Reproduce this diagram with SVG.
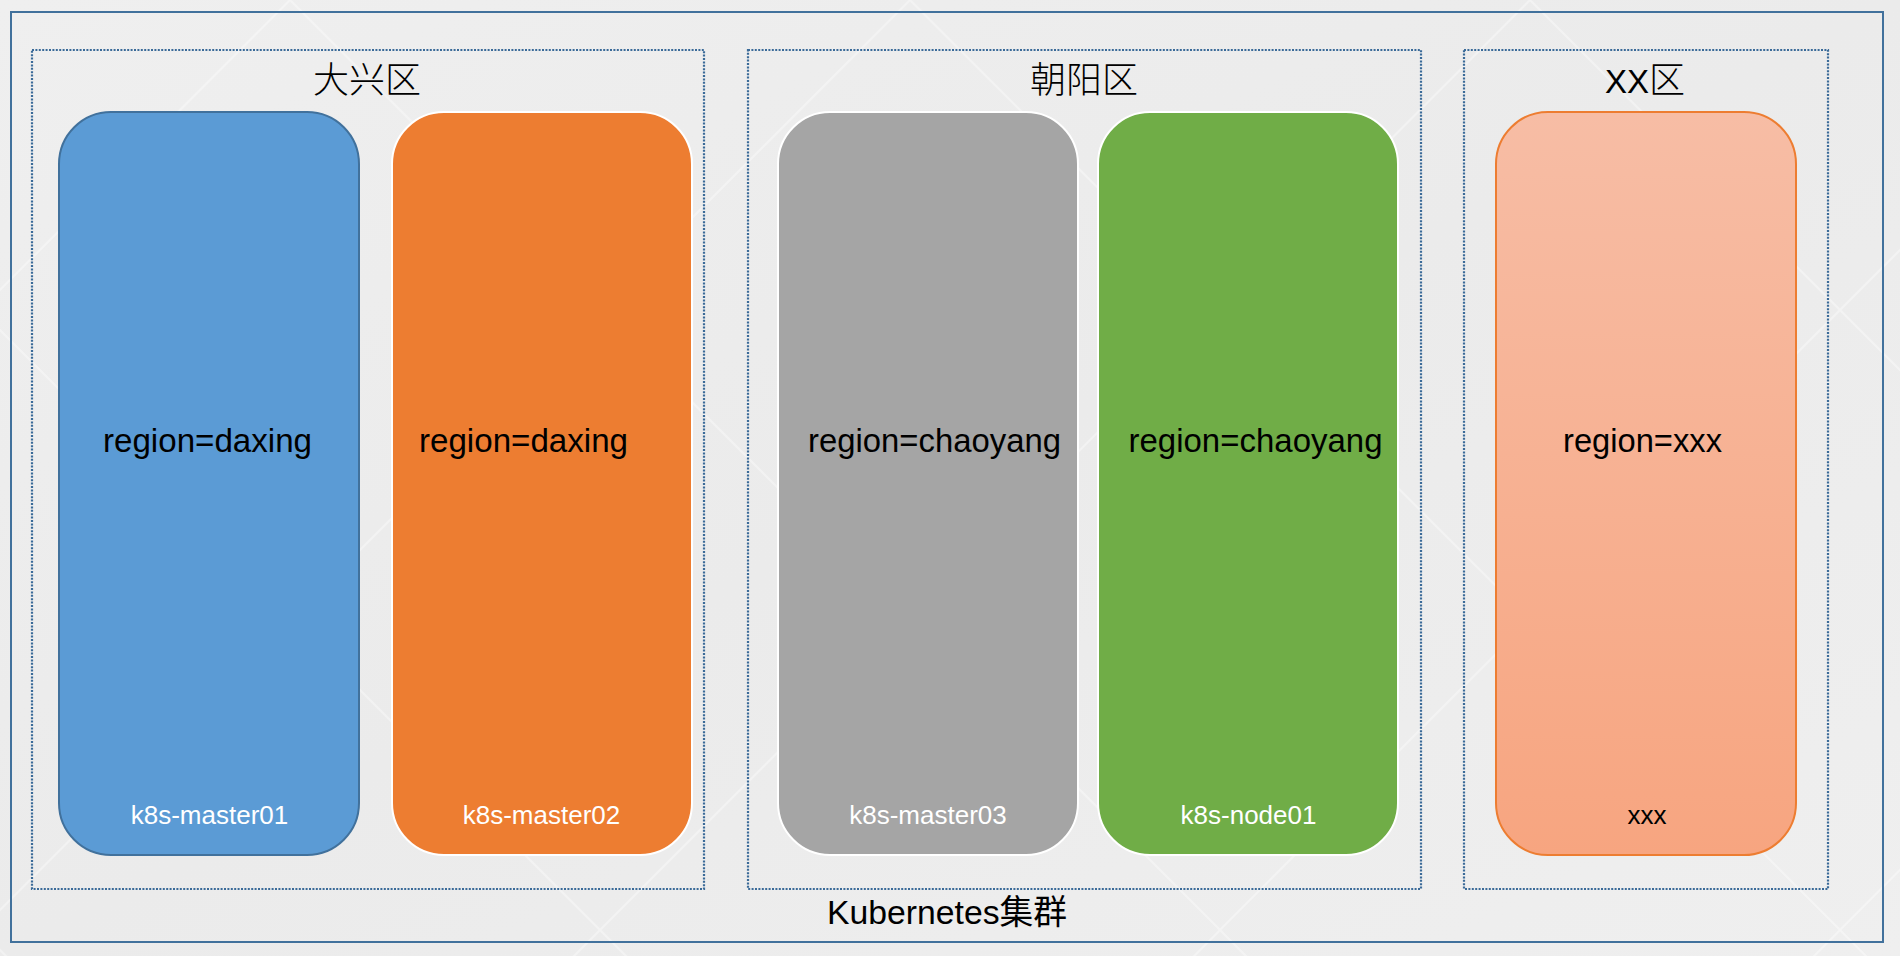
<svg xmlns="http://www.w3.org/2000/svg" width="1900" height="956" viewBox="0 0 1900 956">
  <defs>
    <linearGradient id="bgGrad" x1="0" y1="0" x2="1" y2="1">
      <stop offset="0" stop-color="#efefef"/>
      <stop offset="0.5" stop-color="#ebebeb"/>
      <stop offset="1" stop-color="#efefef"/>
    </linearGradient>
    <linearGradient id="salmonGrad" x1="0" y1="0" x2="0" y2="1">
      <stop offset="0" stop-color="#f7bda5"/>
      <stop offset="1" stop-color="#f7a580"/>
    </linearGradient>
    <pattern id="bgLines" patternUnits="userSpaceOnUse" x="-20" y="-310" width="620" height="620">
      <path d="M0,0 L620,620 M620,0 L0,620" stroke="#ffffff" stroke-width="2" fill="none"/>
    </pattern>
  </defs>
  <style>
    .frame { fill: none; stroke: #41719c; stroke-width: 2; }
    .region { fill: none; stroke: #3a6a98; stroke-width: 2.2; stroke-dasharray: 2 1.4; }
    .title { font-family: "Noto Sans CJK SC", "Liberation Sans", sans-serif; font-size: 36px; font-weight: 300; fill: #000; text-anchor: middle; }
    .node { stroke-width: 2; }
    .lbl { font-family: "Liberation Sans", "Noto Sans", sans-serif; font-size: 33px; fill: #000; text-anchor: middle; }
    .host { font-family: "Liberation Sans", "Noto Sans", sans-serif; font-size: 26px; fill: #ffffff; text-anchor: middle; }
    .cluster { font-family: "Liberation Sans", "Noto Sans CJK SC", sans-serif; font-size: 34px; fill: #000; text-anchor: middle; }
  </style>

  <rect x="0" y="0" width="1900" height="956" fill="url(#bgGrad)"/>
  <rect x="0" y="0" width="1900" height="956" fill="url(#bgLines)" opacity="0.35"/>

  <g id="cluster">
    <rect class="frame" x="11" y="12" width="1872" height="930"/>
    <text class="cluster" x="947" y="924" textLength="240" lengthAdjust="spacingAndGlyphs">Kubernetes集群</text>
  </g>

  <g id="region-daxing">
    <rect class="region" x="32" y="50" width="672" height="839"/>
    <text class="title" x="367" y="93">大兴区</text>
  </g>
  <g id="region-chaoyang">
    <rect class="region" x="748" y="50" width="673" height="839"/>
    <text class="title" x="1084" y="93">朝阳区</text>
  </g>
  <g id="region-xx">
    <rect class="region" x="1464" y="50" width="364" height="839"/>
    <text class="title" x="1645" y="93"><tspan font-family="Liberation Sans, sans-serif" font-size="33">XX</tspan>区</text>
  </g>

  <g id="node-k8s-master01">
    <rect class="node" x="59" y="112" width="300" height="743" rx="52" ry="52" fill="#5b9bd5" stroke="#41719c"/>
    <text class="lbl" x="207.5" y="452" textLength="209" lengthAdjust="spacingAndGlyphs">region=daxing</text>
    <text class="host" x="209.5" y="824">k8s-master01</text>
  </g>
  <g id="node-k8s-master02">
    <rect class="node" x="392" y="112" width="300" height="743" rx="52" ry="52" fill="#ed7d31" stroke="#ffffff" stroke-width="4"/>
    <text class="lbl" x="523.5" y="452" textLength="209" lengthAdjust="spacingAndGlyphs">region=daxing</text>
    <text class="host" x="541.5" y="824">k8s-master02</text>
  </g>
  <g id="node-k8s-master03">
    <rect class="node" x="778" y="112" width="300" height="743" rx="52" ry="52" fill="#a5a5a5" stroke="#ffffff" stroke-width="4"/>
    <text class="lbl" x="934.5" y="452" textLength="253" lengthAdjust="spacingAndGlyphs">region=chaoyang</text>
    <text class="host" x="928" y="824">k8s-master03</text>
  </g>
  <g id="node-k8s-node01">
    <rect class="node" x="1098" y="112" width="300" height="743" rx="52" ry="52" fill="#70ad47" stroke="#ffffff" stroke-width="4"/>
    <text class="lbl" x="1255.5" y="452" textLength="254" lengthAdjust="spacingAndGlyphs">region=chaoyang</text>
    <text class="host" x="1248.5" y="824">k8s-node01</text>
  </g>
  <g id="node-xxx">
    <rect class="node" x="1496" y="112" width="300" height="743" rx="52" ry="52" fill="url(#salmonGrad)" stroke="#ed7d31"/>
    <text class="lbl" x="1642.5" y="452" textLength="159" lengthAdjust="spacingAndGlyphs">region=xxx</text>
    <text class="host" x="1647" y="824" style="fill:#000">xxx</text>
  </g>

  <g id="connectors"></g>
</svg>
